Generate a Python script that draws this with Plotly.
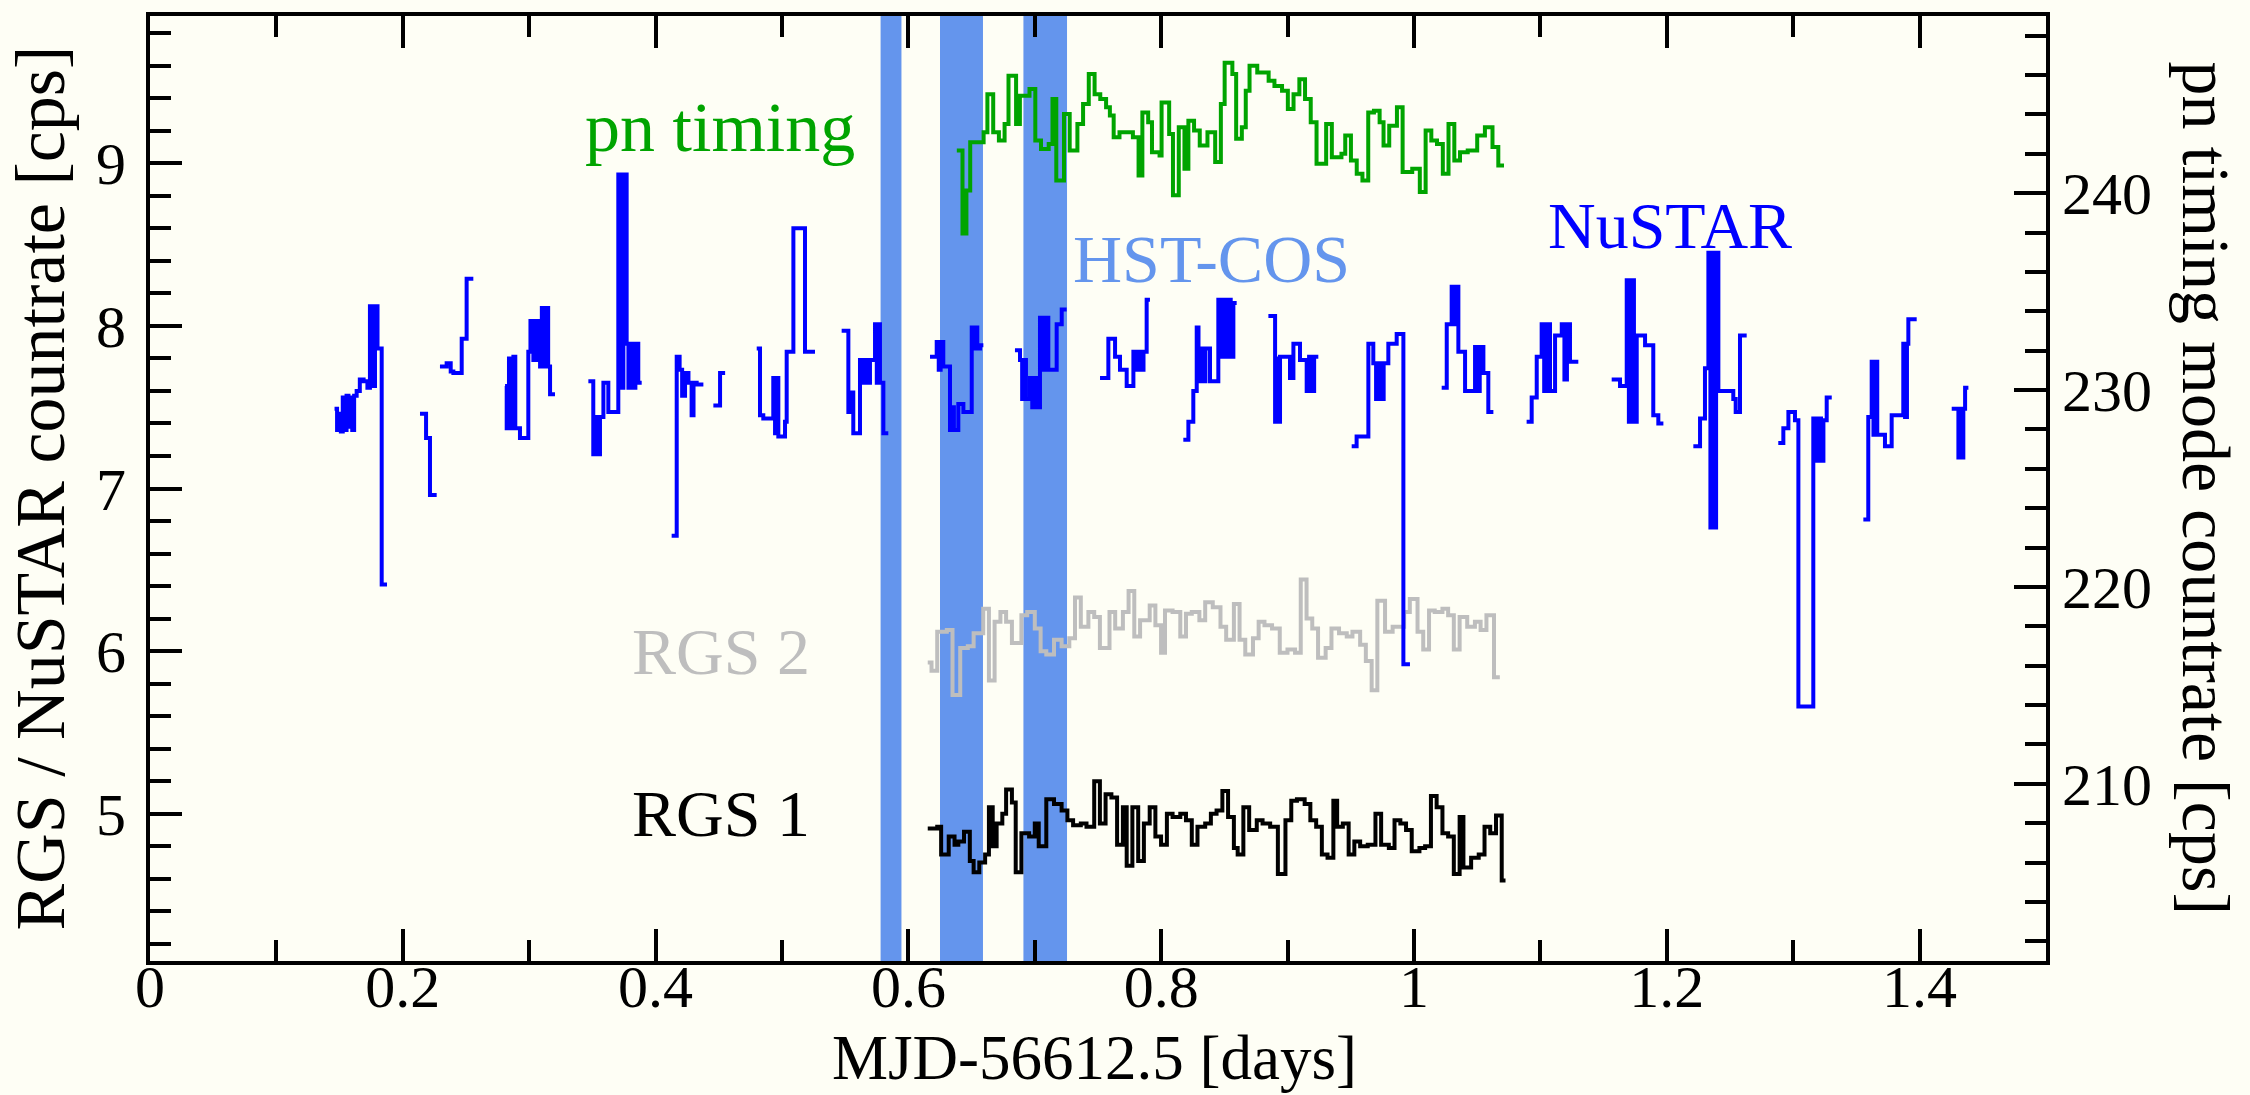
import plotly.graph_objects as go

# ---------------- data ----------------
# NuSTAR light curve (left axis), one list per continuous segment
nustar_t = [
    [0.1460, 0.1480, 0.1495, 0.1510, 0.1525, 0.1540, 0.1555, 0.1570, 0.1585, 0.1600, 0.1615, 0.1635, 0.1660, 0.1690, 0.1720, 0.1740, 0.1750, 0.1760, 0.1770, 0.1780, 0.1800, 0.1833, 0.1875],
    [0.2136, 0.2184, 0.2215, 0.2268],
    [0.2294, 0.2347, 0.2379, 0.2400, 0.2466, 0.2505, 0.2558],
    [0.2809, 0.2822, 0.2840, 0.2855, 0.2875, 0.2890, 0.2927, 0.2993, 0.3010, 0.3033, 0.3050, 0.3070, 0.3086, 0.3100, 0.3112, 0.3130, 0.3150, 0.3165, 0.3204],
    [0.3468, 0.3507, 0.3520, 0.3535, 0.3560, 0.3587, 0.3626, 0.3705, 0.3715, 0.3725, 0.3735, 0.3745, 0.3771, 0.3785, 0.3800, 0.3820, 0.3840, 0.3863, 0.3890],
    [0.4127, 0.4167, 0.4190, 0.4210, 0.4233, 0.4260, 0.4285, 0.4300, 0.4325, 0.4378],
    [0.4457, 0.4510, 0.4550],
    [0.4800, 0.4826, 0.4852, 0.4931, 0.4945, 0.4960, 0.4971, 0.5024, 0.5037, 0.5090, 0.5182, 0.5261],
    [0.5472, 0.5525, 0.5545, 0.5564, 0.5617, 0.5640, 0.5657, 0.5680, 0.5696, 0.5736, 0.5750, 0.5765, 0.5775, 0.5802, 0.5841],
    [0.6171, 0.6224, 0.6240, 0.6255, 0.6276, 0.6329, 0.6345, 0.6360, 0.6395, 0.6435, 0.6501, 0.6515, 0.6530, 0.6545, 0.6567, 0.6593],
    [0.6843, 0.6883, 0.6900, 0.6915, 0.6930, 0.6962, 0.6980, 0.7000, 0.7020, 0.7041, 0.7060, 0.7080, 0.7107, 0.7147, 0.7173, 0.7213, 0.7252],
    [0.7516, 0.7582, 0.7635, 0.7674, 0.7727, 0.7780, 0.7800, 0.7820, 0.7840, 0.7860, 0.7885, 0.7911],
    [0.8175, 0.8215, 0.8254, 0.8281, 0.8295, 0.8307, 0.8330, 0.8350, 0.8386, 0.8452, 0.8470, 0.8490, 0.8510, 0.8530, 0.8550, 0.8571, 0.8597],
    [0.8848, 0.8901, 0.8915, 0.8930, 0.8940, 0.9019, 0.9046, 0.9098, 0.9151, 0.9170, 0.9190, 0.9210, 0.9243],
    [0.9507, 0.9546, 0.9639, 0.9678, 0.9700, 0.9720, 0.9744, 0.9760, 0.9797, 0.9863, 0.9916, 0.9968],
    [1.0219, 1.0259, 1.0298, 1.0310, 1.0325, 1.0351, 1.0404, 1.0483, 1.0500, 1.0520, 1.0549, 1.0588, 1.0628],
    [1.0891, 1.0931, 1.0971, 1.1010, 1.1030, 1.1050, 1.1076, 1.1116, 1.1169, 1.1190, 1.1210, 1.1234, 1.1300],
    [1.1564, 1.1630, 1.1683, 1.1700, 1.1720, 1.1740, 1.1762, 1.1788, 1.1828, 1.1893, 1.1933, 1.1973],
    [1.2210, 1.2263, 1.2302, 1.2329, 1.2345, 1.2360, 1.2375, 1.2390, 1.2408, 1.2526, 1.2545, 1.2579, 1.2632],
    [1.2882, 1.2922, 1.2962, 1.3014, 1.3041, 1.3159, 1.3180, 1.3200, 1.3220, 1.3239, 1.3265, 1.3305],
    [1.3555, 1.3594, 1.3621, 1.3635, 1.3650, 1.3665, 1.3687, 1.3726, 1.3779, 1.3871, 1.3885, 1.3900, 1.3911, 1.3977],
    [1.4254, 1.4307, 1.4320, 1.4333, 1.4346, 1.4360, 1.4386],
]
nustar_rate = [
    [7.49, 7.36, 7.46, 7.35, 7.56, 7.36, 7.57, 7.38, 7.56, 7.36, 7.57, 7.60, 7.67, 7.66, 7.62, 8.12, 7.64, 8.12, 7.63, 8.12, 7.86, 6.41, 6.41],
    [7.46, 7.31, 6.96, 6.96],
    [7.75, 7.77, 7.72, 7.71, 7.92, 8.29, 8.29],
    [7.63, 7.37, 7.80, 7.37, 7.81, 7.37, 7.31, 7.84, 8.03, 7.79, 8.03, 7.79, 7.75, 8.11, 7.75, 8.11, 7.75, 7.58, 7.58],
    [7.66, 7.21, 7.44, 7.21, 7.44, 7.65, 7.47, 8.93, 7.62, 8.93, 7.62, 8.93, 7.89, 7.62, 7.89, 7.62, 7.89, 7.65, 7.65],
    [6.71, 7.81, 7.73, 7.57, 7.71, 7.65, 7.45, 7.65, 7.64, 7.64],
    [7.51, 7.71, 7.71],
    [7.86, 7.45, 7.43, 7.68, 7.34, 7.68, 7.32, 7.41, 7.84, 8.60, 7.84, 7.84],
    [7.97, 7.47, 7.59, 7.34, 7.79, 7.65, 7.79, 7.65, 7.79, 8.01, 7.65, 8.01, 7.65, 7.34, 7.34],
    [7.81, 7.90, 7.73, 7.90, 7.75, 7.36, 7.50, 7.36, 7.52, 7.47, 7.99, 7.86, 7.99, 7.86, 7.88, 7.88],
    [7.85, 7.79, 7.55, 7.79, 7.55, 7.68, 7.50, 7.68, 7.50, 8.05, 7.73, 8.05, 7.73, 7.73, 8.01, 8.10, 8.10],
    [7.68, 7.92, 7.81, 7.73, 7.63, 7.84, 7.73, 7.84, 7.73, 7.84, 8.16, 8.16],
    [7.30, 7.41, 7.60, 7.99, 7.66, 7.86, 7.66, 7.86, 7.66, 8.16, 7.81, 8.16, 7.81, 8.16, 7.81, 8.14, 8.14],
    [8.06, 7.41, 7.80, 7.41, 7.81, 7.68, 7.89, 7.79, 7.60, 7.81, 7.60, 7.81, 7.81],
    [7.26, 7.32, 7.89, 7.77, 7.55, 7.77, 7.55, 7.77, 7.89, 7.95, 5.92, 5.92],
    [7.62, 8.01, 8.24, 8.01, 8.24, 7.84, 7.60, 7.87, 7.60, 7.87, 7.71, 7.47, 7.47],
    [7.41, 7.56, 7.81, 8.01, 7.60, 8.01, 7.60, 7.94, 8.01, 7.67, 8.01, 7.78, 7.78],
    [7.67, 7.63, 8.28, 7.41, 8.28, 7.41, 7.94, 7.94, 7.88, 7.45, 7.40, 7.40],
    [7.26, 7.43, 7.74, 8.45, 6.76, 8.45, 6.76, 8.45, 7.60, 7.55, 7.47, 7.94, 7.94],
    [7.28, 7.37, 7.47, 7.42, 5.66, 7.43, 7.17, 7.43, 7.17, 7.42, 7.56, 7.56],
    [6.81, 7.44, 7.78, 7.33, 7.78, 7.33, 7.33, 7.26, 7.45, 7.89, 7.44, 7.89, 8.04, 8.04],
    [7.49, 7.19, 7.49, 7.19, 7.49, 7.62, 7.62],
]

# XMM pn timing mode (right axis)
pn_t = [0.6383, 0.6428, 0.6459, 0.6489, 0.6595, 0.6625, 0.6671, 0.6716, 0.6761, 0.6792,
        0.6852, 0.6882, 0.6958, 0.7004, 0.7049, 0.7110, 0.7140, 0.7170, 0.7231, 0.7276,
        0.7337, 0.7382, 0.7427, 0.7473, 0.7518, 0.7564, 0.7594, 0.7624, 0.7670, 0.7776,
        0.7821, 0.7851, 0.7897, 0.7927, 0.7987, 0.8003, 0.8063, 0.8093, 0.8139, 0.8184,
        0.8215, 0.8260, 0.8305, 0.8366, 0.8427, 0.8472, 0.8502, 0.8563, 0.8593, 0.8638,
        0.8669, 0.8699, 0.8760, 0.8850, 0.8896, 0.8956, 0.9002, 0.9047, 0.9093, 0.9138,
        0.9183, 0.9229, 0.9305, 0.9350, 0.9426, 0.9456, 0.9501, 0.9547, 0.9592, 0.9638,
        0.9683, 0.9728, 0.9759, 0.9804, 0.9865, 0.9910, 0.9986, 1.0046, 1.0092, 1.0137,
        1.0182, 1.0228, 1.0273, 1.0319, 1.0364, 1.0425, 1.0500, 1.0561, 1.0621, 1.0667,
        1.0712]
pn_rate = [242.17, 237.95, 240.14, 242.59, 243.09, 245.03, 243.09, 242.67, 243.52, 245.96,
           243.52, 244.95, 245.29, 242.67, 242.25, 242.50, 244.78, 240.65, 244.02, 242.17,
           243.52, 244.53, 246.05, 245.03, 244.78, 244.36, 243.94, 242.84, 243.09, 242.84,
           240.90, 244.10, 243.60, 242.08, 241.91, 244.61, 243.01, 239.89, 243.35, 241.24,
           243.68, 243.18, 242.42, 243.09, 241.58, 244.53, 246.63, 246.05, 242.76, 243.35,
           245.20, 246.47, 246.13, 245.71, 245.45, 245.20, 244.27, 245.03, 245.79, 244.78,
           243.60, 241.49, 243.52, 241.83, 242.00, 242.93, 241.66, 240.99, 240.65, 244.10,
           244.19, 243.60, 242.42, 243.43, 244.36, 241.07, 241.24, 240.06, 243.18, 242.67,
           242.50, 240.99, 243.52, 241.66, 242.08, 242.17, 242.93, 243.35, 242.34, 241.41,
           241.41]

# RGS 2 (left axis)
rgs2_t = [0.6153, 0.6183, 0.6228, 0.6304, 0.6349, 0.6410, 0.6470, 0.6516, 0.6592, 0.6637,
          0.6682, 0.6728, 0.6773, 0.6819, 0.6894, 0.6940, 0.7000, 0.7046, 0.7091, 0.7152,
          0.7212, 0.7273, 0.7318, 0.7364, 0.7424, 0.7470, 0.7515, 0.7591, 0.7636, 0.7697,
          0.7742, 0.7787, 0.7833, 0.7909, 0.7954, 0.7999, 0.8030, 0.8090, 0.8151, 0.8196,
          0.8242, 0.8302, 0.8348, 0.8408, 0.8469, 0.8514, 0.8575, 0.8620, 0.8665, 0.8726,
          0.8771, 0.8817, 0.8877, 0.8938, 0.8999, 0.9059, 0.9104, 0.9150, 0.9195, 0.9241,
          0.9301, 0.9347, 0.9407, 0.9468, 0.9513, 0.9574, 0.9619, 0.9665, 0.9710, 0.9771,
          0.9831, 0.9922, 0.9967, 1.0028, 1.0073, 1.0119, 1.0164, 1.0225, 1.0270, 1.0315,
          1.0361, 1.0421, 1.0482, 1.0527, 1.0573, 1.0633, 1.0679]
rgs2_rate = [5.93, 5.88, 6.12, 6.13, 5.73, 6.02, 6.03, 6.11, 6.26, 5.82,
             6.18, 6.24, 6.18, 6.05, 6.22, 6.24, 6.14, 6.00, 5.98, 6.07,
             6.03, 6.08, 6.33, 6.15, 6.24, 6.21, 6.02, 6.24, 6.14, 6.24,
             6.37, 6.09, 6.19, 6.28, 6.16, 5.99, 6.25, 6.24, 6.09, 6.23,
             6.24, 6.19, 6.30, 6.27, 6.15, 6.07, 6.29, 6.07, 5.98, 6.08,
             6.18, 6.16, 6.14, 5.99, 6.01, 5.99, 6.44, 6.20, 6.14, 5.96,
             6.02, 6.14, 6.11, 6.09, 6.12, 6.04, 5.94, 5.76, 6.31, 6.12,
             6.15, 6.24, 6.32, 6.12, 6.01, 6.25, 6.24, 6.26, 6.22, 6.01,
             6.21, 6.15, 6.18, 6.13, 6.22, 5.84, 5.84]

# RGS 1 (left axis)
rgs1_t = [0.6153, 0.6228, 0.6259, 0.6319, 0.6365, 0.6395, 0.6440, 0.6486, 0.6516, 0.6561,
          0.6607, 0.6637, 0.6667, 0.6698, 0.6743, 0.6773, 0.6819, 0.6849, 0.6894, 0.6955,
          0.7000, 0.7031, 0.7091, 0.7152, 0.7212, 0.7258, 0.7303, 0.7364, 0.7409, 0.7470,
          0.7515, 0.7560, 0.7606, 0.7651, 0.7697, 0.7727, 0.7772, 0.7818, 0.7863, 0.7909,
          0.7954, 0.7999, 0.8045, 0.8090, 0.8151, 0.8196, 0.8242, 0.8287, 0.8348, 0.8393,
          0.8438, 0.8484, 0.8529, 0.8575, 0.8605, 0.8650, 0.8696, 0.8756, 0.8802, 0.8862,
          0.8923, 0.8983, 0.9029, 0.9074, 0.9135, 0.9180, 0.9226, 0.9271, 0.9316, 0.9362,
          0.9392, 0.9437, 0.9483, 0.9528, 0.9574, 0.9634, 0.9695, 0.9740, 0.9801, 0.9846,
          0.9892, 0.9937, 0.9982, 1.0043, 1.0088, 1.0134, 1.0179, 1.0225, 1.0270, 1.0315,
          1.0361, 1.0391, 1.0452, 1.0512, 1.0558, 1.0603, 1.0649, 1.0694, 1.0724]
rgs1_rate = [4.91, 4.92, 4.75, 4.86, 4.81, 4.83, 4.89, 4.71, 4.64, 4.70,
             4.75, 5.04, 4.80, 4.94, 5.00, 5.15, 5.07, 4.64, 4.88, 4.86,
             4.94, 4.80, 5.09, 5.06, 5.02, 4.96, 4.93, 4.94, 4.92, 5.20,
             4.94, 5.12, 5.10, 4.81, 5.04, 4.68, 5.04, 4.71, 4.94, 5.04,
             4.86, 4.81, 5.00, 4.98, 5.00, 4.96, 4.81, 4.92, 4.94, 5.00,
             5.02, 5.14, 4.98, 4.79, 4.75, 5.04, 4.90, 4.96, 4.94, 4.92,
             4.63, 4.96, 5.08, 5.09, 5.06, 4.96, 4.92, 4.75, 4.73, 5.08,
             4.92, 4.94, 4.75, 4.83, 4.80, 4.81, 5.00, 4.81, 4.79, 4.96,
             4.94, 4.90, 4.77, 4.79, 4.80, 5.11, 5.04, 4.88, 4.86, 4.63,
             4.98, 4.67, 4.73, 4.75, 4.92, 4.88, 4.99, 4.59, 4.59]

# HST-COS observation windows
hst_start = [0.578, 0.625, 0.691]
hst_end = [0.5945, 0.659, 0.7255]

# ---------------- figure ----------------
FONT = "Liberation Serif"
BG = "#FEFEF5"
LW = 4

def join_segments(ts, vs):
    xx, yy = [], []
    for t, v in zip(ts, vs):
        xx += list(t) + [None]
        yy += list(v) + [None]
    return xx, yy

fig = go.Figure()

for a, b in zip(hst_start, hst_end):
    fig.add_shape(type="rect", xref="x", yref="paper", x0=a, x1=b, y0=0, y1=1,
                  fillcolor="#6495ED", line=dict(width=0), layer="below")

fig.add_trace(go.Scatter(x=rgs2_t, y=rgs2_rate, mode="lines", line_shape="hv",
                         line=dict(color="#BEBEBE", width=LW), showlegend=False))
fig.add_trace(go.Scatter(x=rgs1_t, y=rgs1_rate, mode="lines", line_shape="hv",
                         line=dict(color="black", width=LW), showlegend=False))
nx, ny = join_segments(nustar_t, nustar_rate)
fig.add_trace(go.Scatter(x=nx, y=ny, mode="lines", line_shape="hv", connectgaps=False,
                         line=dict(color="#0000FF", width=LW), showlegend=False))
fig.add_trace(go.Scatter(x=pn_t, y=pn_rate, mode="lines", line_shape="hv", yaxis="y2",
                         line=dict(color="#00A400", width=LW), showlegend=False))

tickfont = dict(family=FONT, size=60, color="black")
common = dict(showgrid=False, zeroline=False, showline=True, linecolor="black",
              linewidth=4, ticks="inside", tickcolor="black", tickwidth=3.5,
              ticklen=32, tickfont=tickfont)

fig.update_layout(
    width=2250, height=1095,
    margin=dict(l=150, r=204, t=12, b=134),
    paper_bgcolor=BG, plot_bgcolor=BG,
    font=dict(family=FONT, color="black"),
    xaxis=dict(range=[0, 1.5], dtick=0.2, tick0=0, mirror="ticks",
               ticklabelstandoff=-30,
               minor=dict(ticks="inside", dtick=0.1, ticklen=21, tickwidth=3.5,
                          tickcolor="black", showgrid=False),
               **common),
    yaxis=dict(range=[4.095, 9.905], dtick=1, tick0=0, ticklabelstandoff=8,
               minor=dict(ticks="inside", dtick=0.2, ticklen=21, tickwidth=3.5,
                          tickcolor="black", showgrid=False),
               **common),
    yaxis2=dict(range=[201, 249], dtick=10, tick0=0, overlaying="y", side="right",
                minor=dict(ticks="inside", dtick=2, ticklen=21, tickwidth=3.5,
                           tickcolor="black", showgrid=False),
                **common),
)

annots = [
    dict(text="pn timing", x=0.451, y=9.22, color="#00A400", size=70),
    dict(text="HST-COS", x=0.8394, y=8.41, color="#6495ED", size=68),
    dict(text="NuSTAR", x=1.2025, y=8.62, color="#0000FF", size=66),
    dict(text="RGS 2", x=0.452, y=6.0, color="#BEBEBE", size=66),
    dict(text="RGS 1", x=0.452, y=5.0, color="black", size=66),
]
for a in annots:
    fig.add_annotation(text=a["text"], x=a["x"], y=a["y"], xref="x", yref="y",
                       showarrow=False, xanchor="center", yanchor="middle",
                       font=dict(family=FONT, size=a["size"], color=a["color"]))

fig.add_annotation(text="RGS / NuSTAR countrate [cps]", textangle=-90,
                   xref="paper", yref="paper", x=0, y=0.5, xshift=-110,
                   xanchor="center", yanchor="middle", showarrow=False,
                   font=dict(family=FONT, size=70, color="black"))
fig.add_annotation(text="pn timing mode countrate [cps]", textangle=90,
                   xref="paper", yref="paper", x=1, y=0.5, xshift=160,
                   xanchor="center", yanchor="middle", showarrow=False,
                   font=dict(family=FONT, size=68, color="black"))
fig.add_annotation(text="MJD-56612.5 [days]",
                   xref="paper", yref="paper", x=0.4984, y=0, yshift=-97,
                   xanchor="center", yanchor="middle", showarrow=False,
                   font=dict(family=FONT, size=63, color="black"))

fig.write_html("out.html")
